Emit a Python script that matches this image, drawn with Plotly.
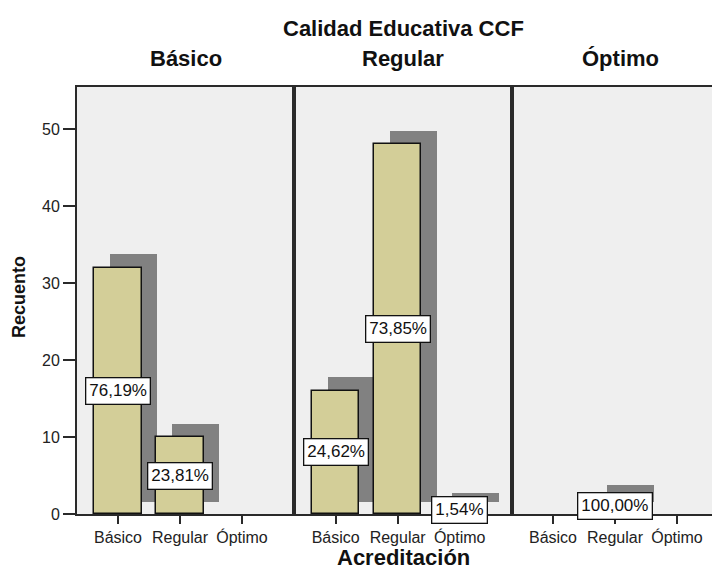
import plotly.graph_objects as go

# ---- data ----
panels = ["Básico", "Regular", "Óptimo"]          # Calidad Educativa CCF
categories = ["Básico", "Regular", "Óptimo"]      # Acreditación
counts = [
    [32, 10, 0],
    [16, 48, 1],
    [0, 2, 0],
]
pct_labels = [
    ["76,19%", "23,81%", None],
    ["24,62%", "73,85%", "1,54%"],
    [None, "100,00%", None],
]
y_ticks = [0, 10, 20, 30, 40, 50]

# ---- style ----
BAR_COLOR = "#D3CE98"
SHADOW_COLOR = "#818181"
BG = "#EFEFEF"
LINE = "#2a2a2a"
FONT = "Liberation Sans, Arial, sans-serif"
BAR_W = 0.76
SH_DX = 0.25
SH_BASE = 1.56
SH_TOP = 1.75

# page body has an 8px default margin; lay out in window pixels and shift
OFF = 8
WIN_W, WIN_H = 720, 572
W, H = WIN_W - OFF, WIN_H - OFF
L_px, T_px, B_px, R_px = 77, 87, 514, 720   # plot area in window pixels
ML = L_px - OFF
MT = T_px - OFF
MB = WIN_H - B_px
plot_w = R_px - L_px
plot_h = B_px - T_px
dom_px = [(77, 294), (294, 512), (512, 720)]
domains = [((a - L_px) / plot_w, (b - L_px) / plot_w) for a, b in dom_px]
ranges = [[-0.661, 2.839], [-0.672, 2.844], [-0.661, 2.694]]
xpos = list(range(len(categories)))

fig = go.Figure()

for i in range(3):
    xa = "x" if i == 0 else f"x{i+1}"
    ya = "y" if i == 0 else f"y{i+1}"
    vals = counts[i]
    nz = [(x, v) for x, v in zip(xpos, vals) if v > 0]
    # shadows
    fig.add_trace(go.Bar(x=[x + SH_DX for x, v in nz], y=[v + SH_TOP - SH_BASE for x, v in nz],
                         base=SH_BASE, width=BAR_W,
                         marker=dict(color=SHADOW_COLOR, line=dict(width=0)),
                         xaxis=xa, yaxis=ya, showlegend=False, hoverinfo="skip"))
    # bars
    fig.add_trace(go.Bar(x=[x for x, v in nz], y=[v for x, v in nz], width=BAR_W,
                         marker=dict(color=BAR_COLOR, line=dict(color="#111111", width=1.5)),
                         xaxis=xa, yaxis=ya, showlegend=False))
    # labels
    for x, v, lab in zip(xpos, vals, pct_labels[i]):
        if lab:
            fig.add_annotation(x=x, y=v / 2, xref=xa, yref=ya, text=lab, showarrow=False,
                               xanchor="center", yanchor="middle",
                               bgcolor="white", bordercolor="#111111", borderwidth=1.3,
                               borderpad=3, font=dict(family=FONT, size=17, color="#111111"))

axis_common = dict(showline=True, linecolor=LINE, linewidth=2, mirror=True,
                   showgrid=False, zeroline=False, automargin=False)
for i in range(3):
    key_x = "xaxis" if i == 0 else f"xaxis{i+1}"
    key_y = "yaxis" if i == 0 else f"yaxis{i+1}"
    fig.layout[key_x] = dict(domain=list(domains[i]), range=ranges[i], anchor="y" if i == 0 else f"y{i+1}",
                             tickmode="array", tickvals=xpos, ticktext=categories,
                             ticks="outside", ticklen=8, tickwidth=2, tickcolor=LINE,
                             tickfont=dict(family=FONT, size=16, color="#222222"),
                             **axis_common)
    ydict = dict(domain=[0, 1], range=[0, 55.45], anchor="x" if i == 0 else f"x{i+1}",
                 **axis_common)
    if i == 0:
        ydict.update(tickmode="array", tickvals=y_ticks, ticks="outside", ticklen=12,
                     tickwidth=2, tickcolor=LINE,
                     tickfont=dict(family=FONT, size=16, color="#222222"))
    else:
        ydict.update(matches="y", showticklabels=False, ticks="")
    fig.layout[key_y] = ydict

def py(px):
    return (B_px - px) / plot_h
def pxx(px):
    return (px - L_px) / plot_w

def paper_text(xp, yp, text, size, angle=0):
    fig.add_annotation(x=pxx(xp), y=py(yp), xref="paper", yref="paper", text=text,
                       xanchor="center", yanchor="middle", textangle=angle,
                       showarrow=False, font=dict(family=FONT, size=size, color="#111111"))

paper_text(403, 28, "<b>Calidad Educativa CCF</b>", 22)
for i, p in enumerate(panels):
    a, b = dom_px[i]
    center = (a + b) / 2 if i < 2 else (512 + 729) / 2
    paper_text(center, 59, f"<b>{p}</b>", 22)
paper_text(403, 557, "<b>Acreditación</b>", 22)
paper_text(19, 297, "<b>Recuento</b>", 18, angle=-90)

fig.update_layout(width=W, height=H, margin=dict(l=ML, r=0, t=MT, b=MB, autoexpand=False),
                  paper_bgcolor="white", plot_bgcolor=BG, barmode="overlay", bargap=0)

fig.write_html("out.html")
